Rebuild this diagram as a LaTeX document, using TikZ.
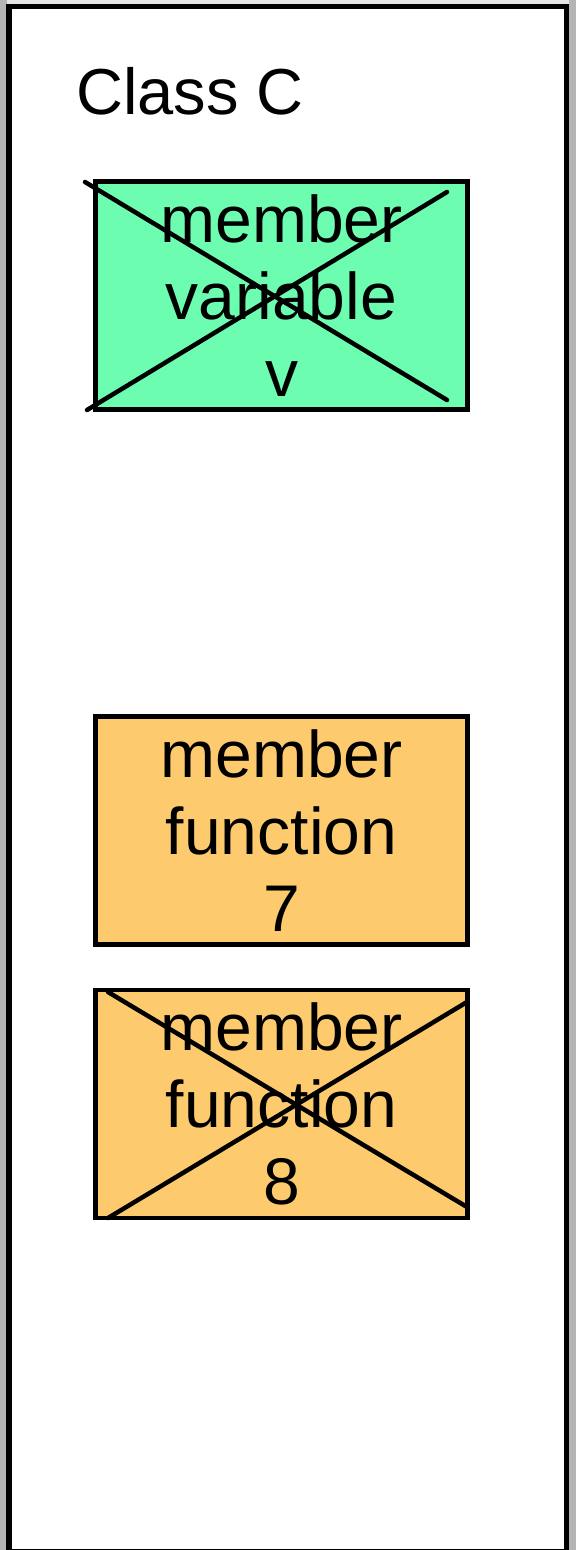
\documentclass[tikz,border=0pt]{standalone}
\usepackage{fontspec}
\setmainfont{Liberation Sans}
\definecolor{vargreen}{RGB}{108,253,176}
\definecolor{funorange}{RGB}{253,203,110}
\definecolor{shadeside}{RGB}{180,180,180}
\definecolor{shadetop}{RGB}{228,228,228}
\begin{document}
\begin{tikzpicture}[x=1pt,y=-1pt,
  member/.style={draw=black,line width=4.5pt,minimum width=372pt,minimum height=228pt,
    inner sep=0pt,align=center,font=\fontsize{66}{77}\selectfont},
  crossline/.style={line width=4.5pt,line cap=round}]
\useasboundingbox (0,0) rectangle (576,1550);
\fill[shadetop] (0,0) rectangle (576,1550);
\fill[shadeside] (0,0) rectangle (7,1550);
\fill[shadeside] (569,0) rectangle (576,1550);
\draw[line width=5.5pt,fill=white] (9,6.5) rectangle (566.5,1552);
\node[anchor=base west,font=\fontsize{65}{77}\selectfont,inner sep=0pt] (title) at (76,114) {Class C};
\node[member,fill=vargreen] (v) at (281.5,295.5) {member\\variable\\v};
\node[member,fill=funorange] (f7) at (281.5,830.5) {member\\function\\7};
\node[member,fill=funorange] (f8) at (281.5,1104) {member\\function\\8};
\draw[crossline] (85,182) -- (447,400);
\draw[crossline] (87,410) -- (447,192);
\draw[crossline] (108,992) -- (467,1207);
\draw[crossline] (108,1218) -- (467,1002);
\end{tikzpicture}
\end{document}
